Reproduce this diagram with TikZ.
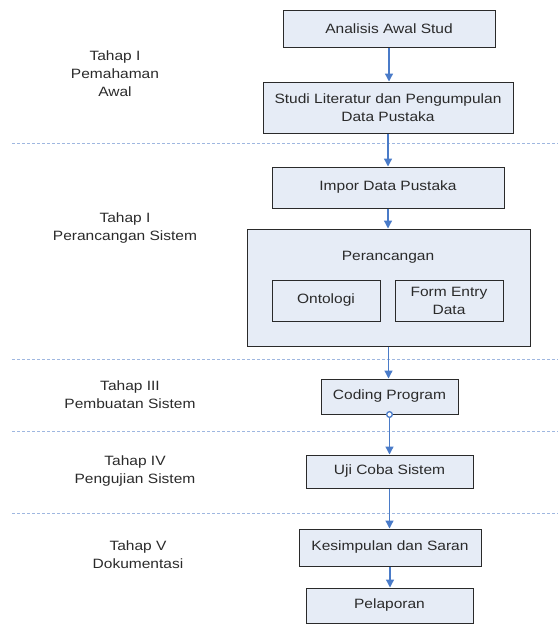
\documentclass[tikz,border=0pt]{standalone}
\usepackage{fontspec}
\setmainfont[FakeStretch=1.15]{Liberation Sans}
\usetikzlibrary{arrows.meta}
\definecolor{boxfill}{HTML}{E6ECF6}
\definecolor{boxline}{HTML}{2A2A2A}
\definecolor{arrowblue}{HTML}{4A7BC8}
\definecolor{dashblue}{HTML}{9FB7E0}
\definecolor{txt}{HTML}{2A2A2A}
\tikzset{
  x=1pt, y=-1pt,
  every node/.style={font=\fontsize{13.5}{18}\selectfont, text=txt},
  stepbox/.style={draw=boxline, line width=1pt, fill=boxfill, inner sep=0pt, align=center},
  lbl/.style={align=center, inner sep=0pt},
  flow/.style={draw=arrowblue, line width=1.3pt, -{Triangle[width=8pt,length=8pt]}},
  sep/.style={draw=dashblue, line width=0.9pt, dash pattern=on 3pt off 2pt},
}
\begin{document}
\begin{tikzpicture}
\useasboundingbox (0,0) rectangle (558,624);
% separators
\foreach \yy/\nm in {143/s1,359/s2,431/s3,513/s4}{
  \coordinate (\nm a) at (12,\yy);
  \coordinate (\nm b) at (558,\yy);
  \draw[sep] (\nm a) -- (\nm b);
}
% boxes
\node[stepbox, minimum width=212, minimum height=37] (ana) at (389,28.5) {Analisis Awal Stud};
\node[stepbox, minimum width=250, minimum height=51] (lit) at (388,107.5) {Studi Literatur dan Pengumpulan\\Data Pustaka};
\node[stepbox, minimum width=232, minimum height=41] (imp) at (388,187.5) {Impor Data Pustaka};
\node[stepbox, minimum width=283, minimum height=117] (per) at (388.5,287.5) {};
\node[lbl] (pert) at (388,257) {Perancangan};
\node[stepbox, minimum width=108, minimum height=41] (ont) at (326,300.5) {Ontologi};
\node[stepbox, minimum width=108, minimum height=41] (frm) at (449,300.5) {Form Entry\\Data};
\node[stepbox, minimum width=137, minimum height=35] (cod) at (389.5,396.5) {Coding Program};
\node[stepbox, minimum width=167, minimum height=33] (uji) at (389.5,471.5) {Uji Coba Sistem};
\node[stepbox, minimum width=182, minimum height=37] (kes) at (390,547.5) {Kesimpulan dan Saran};
\node[stepbox, minimum width=167, minimum height=35] (pel) at (389.5,605.5) {Pelaporan};
% stage labels
\node[lbl] (t1) at (115,74) {Tahap I\\Pemahaman\\Awal};
\node[lbl] (t2) at (125,228) {Tahap I\\Perancangan Sistem};
\node[lbl] (t3) at (130,395) {Tahap III\\Pembuatan Sistem};
\node[lbl] (t4) at (135,471) {Tahap IV\\Pengujian Sistem};
\node[lbl] (t5) at (138,555) {Tahap V\\Dokumentasi};
% arrows
\draw[flow] (ana.south) -- (ana.south |- lit.north);
\draw[flow] (lit.south) -- (lit.south |- imp.north);
\draw[flow] (imp.south) -- (imp.south |- per.north);
\draw[flow] (per.south) -- (per.south |- cod.north);
\draw[flow, {Circle[open,length=7pt,width=7pt,fill=white]}-{Triangle[width=8pt,length=8pt]}, shorten <=-3.5pt] (cod.south) -- (cod.south |- uji.north);
\draw[flow] (uji.south) -- (uji.south |- kes.north);
\draw[flow] (kes.south) -- (kes.south |- pel.north);
\end{tikzpicture}
\end{document}
